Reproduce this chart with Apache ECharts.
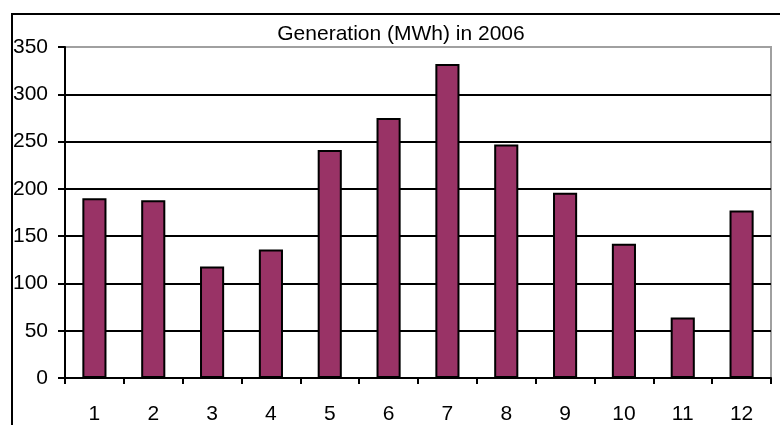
<!DOCTYPE html>
<html>
<head>
<meta charset="utf-8">
<script src="https://cdn.jsdelivr.net/npm/echarts@6/dist/echarts.min.js"></script>
<style>
  html, body { margin: 0; padding: 0; background: #fff; }
  #chart { width: 780px; height: 425px; }
</style>
</head>
<body>
<div id="chart"></div>
<script>
// Monthly generation, 2006
const months = ['1', '2', '3', '4', '5', '6', '7', '8', '9', '10', '11', '12'];
const generation = [190, 188, 118, 136, 241, 275, 332, 247, 196, 142, 64, 177];
const yTicks = [0, 50, 100, 150, 200, 250, 300, 350];
const chartTitle = 'Generation (MWh) in 2006';

const FONT = '"Liberation Sans", Arial, sans-serif';

const chart = echarts.init(document.getElementById('chart'), null, { renderer: 'canvas' });

// gridline colours: black, with the top (350) line grey like the plot border
const gridColors = yTicks.map((v, i) => (i === yTicks.length - 1 ? '#a0a0a0' : '#000'));

chart.setOption({
  animation: false,
  backgroundColor: '#fff',
  title: {
    text: chartTitle,
    left: 396,
    top: 19,
    textAlign: 'center',
    textStyle: { fontFamily: FONT, fontSize: 21, fontWeight: 'normal', color: '#000' }
  },
  graphic: [{
    // chart-area frame (left and top edges visible)
    type: 'rect',
    shape: { x: 12, y: 14, width: 800, height: 450 },
    style: { fill: 'none', stroke: '#000', lineWidth: 2 },
    z: 0
  }],
  grid: {
    left: 65, right: 9, top: 47, bottom: 47,
    show: true,
    borderColor: '#a0a0a0',
    borderWidth: 2,
    backgroundColor: 'transparent'
  },
  xAxis: {
    type: 'category',
    data: months,
    boundaryGap: true,
    axisLine: { show: true, lineStyle: { color: '#000', width: 2 } },
    axisTick: { show: true, length: 6, lineStyle: { color: '#000', width: 2 } },
    axisLabel: { margin: 26, fontFamily: FONT, fontSize: 21, color: '#000' },
    splitLine: { show: false }
  },
  yAxis: {
    type: 'value',
    min: yTicks[0],
    max: yTicks[yTicks.length - 1],
    interval: yTicks[1] - yTicks[0],
    axisLine: { show: true, lineStyle: { color: '#000', width: 2 } },
    axisTick: { show: true, length: 7, lineStyle: { color: '#000', width: 2 } },
    axisLabel: { margin: 17, fontFamily: FONT, fontSize: 21, color: '#000' },
    splitLine: { show: true, lineStyle: { color: gridColors, width: 2 } }
  },
  series: [{
    type: 'bar',
    data: generation,
    barWidth: '41%',
    itemStyle: { color: '#993366', borderColor: '#000', borderWidth: 2 }
  }]
});
</script>
</body>
</html>
